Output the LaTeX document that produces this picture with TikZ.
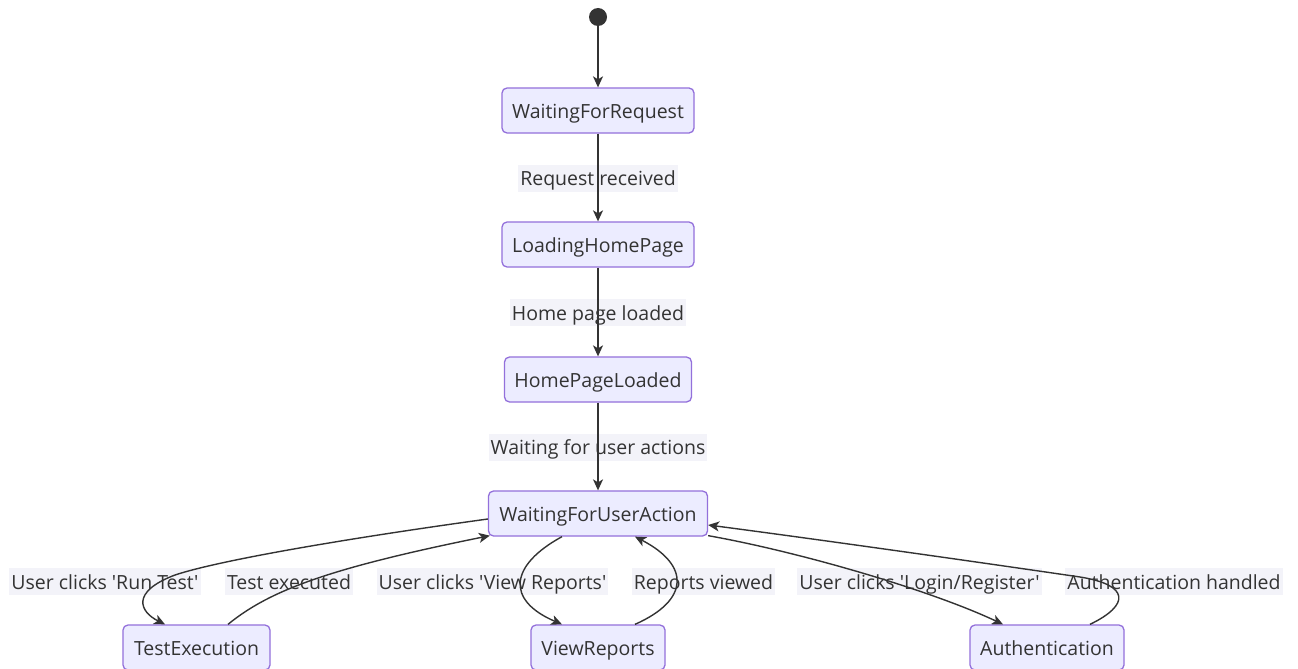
\documentclass[tikz,border=0pt]{standalone}
\usepackage{fontspec}
% plain family: straight apostrophes stay straight
\newfontfamily\diafont{Open Sans}
\usetikzlibrary{arrows.meta}
\definecolor{boxfill}{HTML}{ECECFF}
\definecolor{boxline}{HTML}{9370DB}
\definecolor{ink}{HTML}{333333}
\definecolor{labelbg}{HTML}{F3F3F9}
\tikzset{
  state/.style={draw=boxline, fill=boxfill, line width=1.3pt, rounded corners=5pt,
    minimum height=45pt, inner sep=0pt, text=ink, text height=20pt, text depth=5pt,
    font=\diafont\fontsize{19.5}{22}\selectfont},
  edgelabel/.style={fill=labelbg, text=ink, inner xsep=2pt, minimum height=27pt,
    inner ysep=0pt, text height=20pt, text depth=5pt, font=\diafont\fontsize{19.5}{22}\selectfont},
  trans/.style={draw=ink, line width=1.4pt, -{Stealth[length=11pt,width=10pt,inset=3pt]}},
}
\begin{document}
\begin{tikzpicture}[x=1pt,y=-1pt]
\useasboundingbox (0,0) rectangle (1298,669);
\fill[white] (0,0) rectangle (1298,669);

% states
\node[circle, fill=ink, minimum size=18pt, inner sep=0pt] (start) at (598,17) {};
\node[state, minimum width=192pt] (wfr)  at (598,110.5) {WaitingForRequest};
\node[state, minimum width=192pt] (lhp)  at (598,244.5) {LoadingHomePage};
\node[state, minimum width=187pt] (hpl)  at (598,379.5) {HomePageLoaded};
\node[state, minimum width=219pt] (wfua) at (598,513.5) {WaitingForUserAction};
\node[state, minimum width=147pt] (te)   at (196.5,647.5) {TestExecution};
\node[state, minimum width=134pt] (vr)   at (598,647.5) {ViewReports};
\node[state, minimum width=154pt] (auth) at (1047,647.5) {Authentication};

% transition labels
\node[edgelabel] (l1) at (598,178) {Request received};
\node[edgelabel] (l2) at (598,312.5) {Home page loaded};
\node[edgelabel] (l3) at (598,447) {Waiting for user actions};
\node[edgelabel] (l4) at (105,581.5) {User clicks 'Run Test'};
\node[edgelabel] (l5) at (289,581.5) {Test executed};
\node[edgelabel] (l6) at (492.5,581.5) {User clicks 'View Reports'};
\node[edgelabel] (l7) at (703.5,581.5) {Reports viewed};
\node[edgelabel] (l8) at (919.5,581.5) {User clicks 'Login/Register'};
\node[edgelabel] (l9) at (1174,581.5) {Authentication handled};

% transitions
\draw[trans] (start) -- (wfr);
\draw[trans] (wfr) -- (lhp);
\draw[trans] (lhp) -- (hpl);
\draw[trans] (hpl) -- (wfua);

\draw[trans] ([yshift=-5.5pt]wfua.west) .. controls (350,538) and (220,560) .. (175,575)
  .. controls (130,592) and (140,612) .. ([xshift=-31.5pt]te.north);
\draw[trans] ([xshift=31.5pt]te.north) .. controls (270,590) and (330,568) .. ([xshift=2pt,yshift=1pt]wfua.south west);

\draw[trans] ([xshift=-36pt]wfua.south) .. controls (510,565) and (505,600) .. ([xshift=-36pt]vr.north);
\draw[trans] ([xshift=37pt]vr.north) .. controls (690,600) and (690,565) .. ([xshift=37pt]wfua.south);

\draw[trans] ([yshift=1pt]wfua.south east) .. controls (800,552) and (930,590) .. ([xshift=-44pt]auth.north);
\draw[trans] ([xshift=43pt]auth.north) .. controls (1130,605) and (1130,585) .. (1080,577)
  .. controls (950,558) and (800,537) .. ([yshift=-11.5pt]wfua.east);
\end{tikzpicture}
\end{document}
